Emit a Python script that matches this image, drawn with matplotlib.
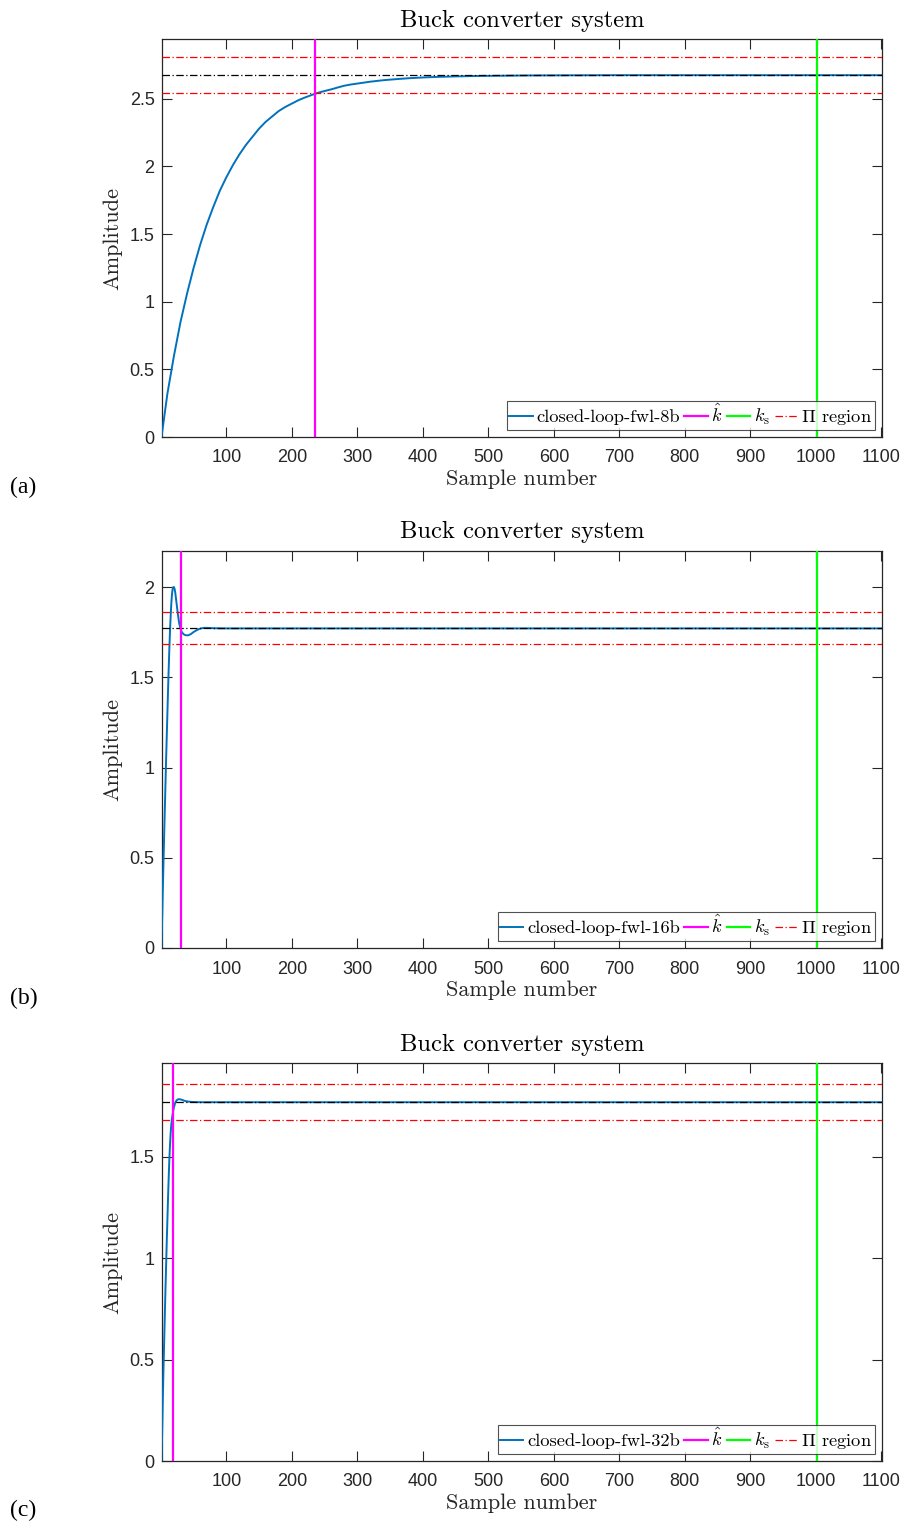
import matplotlib
matplotlib.use("Agg")
import matplotlib.pyplot as plt
import numpy as np

plt.rcParams['mathtext.fontset'] = 'cm'
plt.rcParams['font.family'] = ['Liberation Sans', 'DejaVu Sans']

# ---------------- data ----------------
k_a = [1, 10, 20, 30, 40, 50, 60, 70, 80, 90, 100, 110, 120, 130, 140, 150, 160, 170,
       180, 190, 200, 210, 220, 230, 240, 250, 260, 270, 280, 290, 300, 320, 340, 360,
       380, 400, 420, 450, 480, 520, 560, 620, 700, 1101]
y_a = [0.0, 0.32, 0.60, 0.85, 1.06, 1.25, 1.42, 1.57, 1.70, 1.82, 1.92, 2.01, 2.09,
       2.16, 2.22, 2.28, 2.33, 2.37, 2.41, 2.44, 2.465, 2.49, 2.51, 2.528, 2.545,
       2.558, 2.57, 2.584, 2.597, 2.606, 2.613, 2.627, 2.638, 2.646, 2.653, 2.658,
       2.662, 2.666, 2.669, 2.671, 2.673, 2.674, 2.675, 2.675]

k_b = [1, 2, 3, 4, 5, 6, 7, 8, 9, 10, 11, 12, 13, 14, 15, 16, 17, 18, 19, 20, 21,
       22, 23, 24, 26, 28, 30, 32, 35, 38, 42, 46, 50, 55, 60, 66, 72, 80, 100, 1101]
y_b = [0.0, 0.16, 0.32, 0.47, 0.62, 0.76, 0.90, 1.04, 1.17, 1.30, 1.43, 1.55, 1.66,
       1.76, 1.84, 1.91, 1.96, 1.99, 2.0, 2.0, 1.99, 1.97, 1.94, 1.91, 1.85, 1.80,
       1.77, 1.75, 1.738, 1.733, 1.733, 1.740, 1.751, 1.762, 1.770, 1.774, 1.774,
       1.772, 1.771, 1.771]

k_c = [1, 2, 3, 4, 5, 6, 7, 8, 9, 10, 11, 12, 13, 14, 15, 16, 17, 18, 19, 20, 22,
       24, 26, 28, 30, 33, 36, 40, 45, 50, 60, 1101]
y_c = [0.0, 0.14, 0.30, 0.45, 0.58, 0.71, 0.84, 0.96, 1.08, 1.19, 1.30, 1.40, 1.49,
       1.56, 1.62, 1.66, 1.69, 1.71, 1.73, 1.745, 1.768, 1.779, 1.784, 1.785, 1.784,
       1.781, 1.777, 1.774, 1.772, 1.771, 1.770, 1.770]

series_labels = ['closed-loop-fwl-8b', 'closed-loop-fwl-16b', 'closed-loop-fwl-32b']
steady = [2.675, 1.771, 1.770]
band_lo = [2.541, 1.683, 1.682]
band_hi = [2.809, 1.860, 1.859]
k_hat = [235, 31, 19]
k_s = [1002, 1002, 1002]
panel_tags = ['(a)', '(b)', '(c)']
xticks = [100, 200, 300, 400, 500, 600, 700, 800, 900, 1000, 1100]
yticks = [[0, 0.5, 1, 1.5, 2, 2.5], [0, 0.5, 1, 1.5, 2], [0, 0.5, 1, 1.5]]

curves = [(k_a, y_a), (k_b, y_b), (k_c, y_c)]

# ---------------- figure ----------------
fig = plt.figure(figsize=(9.11, 15.26), dpi=100)
W, H = 911, 1526
boxes = [(39, 437), (551, 948), (1063, 1461)]
left_px, right_px = 161.5, 882
axc = '#262626'
cm = ['cmr10', 'DejaVu Serif']
dd = (0, (6, 2, 1, 2))

for i in range(3):
    top, bot = boxes[i]
    ax = fig.add_axes([left_px / W, 1 - bot / H, (right_px - left_px) / W, (bot - top) / H])
    k, y = curves[i]
    ln_curve, = ax.plot(k, y, color='#0072BD', lw=1.4, zorder=3)
    ax.axhline(steady[i], color='black', lw=0.9, ls=dd, zorder=4)
    ln_band = ax.axhline(band_lo[i], color='#FF0000', lw=0.9, ls=dd, zorder=4)
    ax.axhline(band_hi[i], color='#FF0000', lw=0.9, ls=dd, zorder=4)
    ln_kh = ax.axvline(k_hat[i], color='#FF00FF', lw=1.6, zorder=5)
    ln_ks = ax.axvline(k_s[i], color='#00FF00', lw=1.6, zorder=5)

    ax.set_xlim(1, 1101)
    ax.set_ylim(0, 1.1 * max(y))
    ax.set_xticks(xticks)
    ax.set_yticks(yticks[i])
    ax.set_yticklabels([('%g' % v) for v in yticks[i]])
    ax.tick_params(direction='in', length=7, width=0.8, colors=axc, labelsize=13,
                   top=True, right=True)
    ax.tick_params(axis='x', pad=9)
    ax.tick_params(axis='y', pad=5)
    for s in ax.spines.values():
        s.set_color(axc)
        s.set_linewidth(0.9)

    ax.set_title('Buck converter system', fontsize=17.7, family=cm, color='black', pad=9)
    ax.set_xlabel('Sample number', fontsize=16, family=cm, color=axc, labelpad=2)
    ax.set_ylabel('Amplitude', fontsize=16, family=cm, color=axc, labelpad=5)

    leg = ax.legend(handles=[ln_curve, ln_kh, ln_ks, ln_band],
                    labels=[series_labels[i], r'$\hat{k}$', r'$k_\mathrm{s}$',
                            r'$\Pi$ region'],
                    loc='lower right', ncol=4, frameon=True, fancybox=False,
                    handlelength=1.25, handletextpad=0.2, columnspacing=0.25,
                    borderpad=0.12, borderaxespad=0.4,
                    prop={'family': cm, 'size': 13.3})
    leg.get_frame().set_edgecolor(axc)
    leg.get_frame().set_linewidth(0.8)

    fig.text(10 / W, 1 - (487 + i * 511.5) / H, panel_tags[i], fontsize=17,
             family='Liberation Serif', va='center', ha='left')

fig.savefig('out.png', dpi=100)
